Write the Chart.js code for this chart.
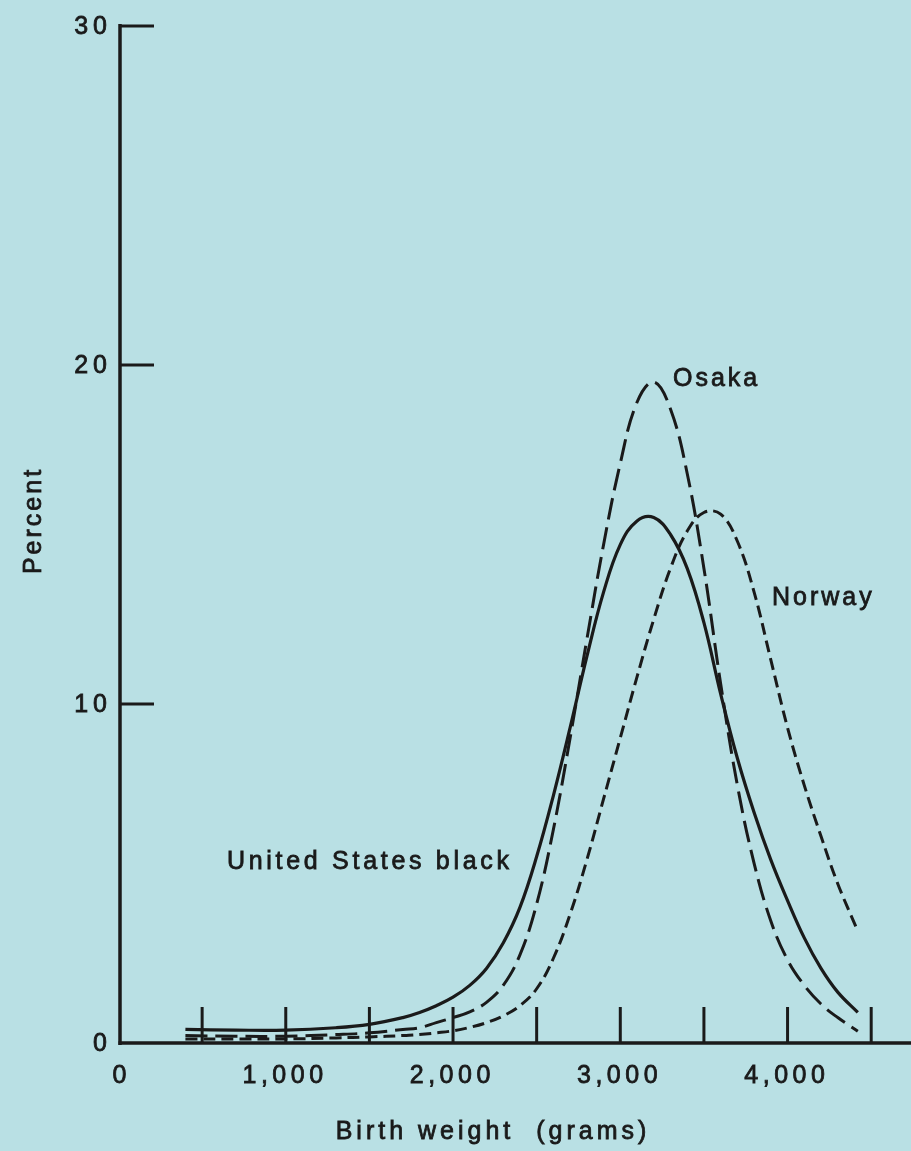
<!DOCTYPE html>
<html>
<head>
<meta charset="utf-8">
<script src="https://cdn.jsdelivr.net/npm/chart.js@4"></script>
<style>
  html, body { margin: 0; padding: 0; background: #b9e0e4; }
  #wrap { width: 911px; height: 1151px; position: relative; }
  canvas { display: block; }
</style>
</head>
<body>
<div id="wrap"><canvas id="c" width="911" height="1151"></canvas></div>
<script>
// ---- Data ----
const weights = [400, 700, 1000, 1300, 1500, 1700, 1800, 1900, 2000, 2100, 2200, 2300, 2400, 2500, 2600, 2700, 2800, 2900, 3000, 3100, 3200, 3300, 3400, 3500, 3600, 3700, 3800, 3900, 4000, 4100, 4200, 4300, 4420];
const usBlack = [0.4, 0.38, 0.38, 0.45, 0.55, 0.75, 0.9, 1.1, 1.35, 1.7, 2.2, 2.95, 4.0, 5.5, 7.3, 9.3, 11.4, 13.3, 14.7, 15.4, 15.5, 15.0, 14.0, 12.4, 10.3, 8.4, 6.8, 5.4, 4.2, 3.1, 2.2, 1.5, 0.9];
const osaka   = [0.22, 0.2, 0.2, 0.25, 0.3, 0.4, 0.45, 0.6, 0.75, 0.92, 1.2, 1.7, 2.6, 4.1, 6.3, 9.0, 11.9, 14.7, 17.1, 18.9, 19.5, 18.7, 16.8, 14.0, 10.6, 7.6, 5.3, 3.6, 2.45, 1.7, 1.15, 0.75, 0.35];
const norway  = [0.12, 0.12, 0.12, 0.15, 0.18, 0.22, 0.25, 0.3, 0.36, 0.46, 0.6, 0.8, 1.1, 1.6, 2.5, 3.8, 5.4, 7.2, 9.0, 10.8, 12.5, 14.0, 15.1, 15.65, 15.6, 14.8, 13.3, 11.3, 9.3, 7.6, 6.1, 4.7, 3.3];

const seriesNames = ["United States black", "Osaka", "Norway"];
const xTickMarks = [500, 1000, 1500, 2000, 2500, 3000, 3500, 4000, 4500];
const xTickLabels = [0, 1000, 2000, 3000, 4000];
const yTickMarks = [10, 20, 30];
const yTickLabels = [0, 10, 20, 30];
const xTitle = "Birth weight  (grams)";
const yTitle = "Percent";

const INK = '#1a1a1a';
const FONT = '25px "Liberation Sans", Arial, sans-serif';

const toPts = (ys) => weights.map((w, i) => ({ x: w, y: ys[i] }));

function spacedText(ctx, text, x, y, align, spacing) {
  ctx.save();
  ctx.letterSpacing = spacing + 'px';
  const w = ctx.measureText(text).width - spacing; // remove trailing spacing
  let sx = x;
  if (align === 'center') sx = x - w / 2;
  else if (align === 'right') sx = x - w;
  ctx.textAlign = 'left';
  ctx.lineWidth = 0.8;
  ctx.strokeStyle = ctx.fillStyle;
  ctx.fillText(text, sx, y);
  ctx.strokeText(text, sx, y);
  ctx.restore();
}

const fmt = (v) => v.toLocaleString('en-US');

const axesPlugin = {
  id: 'axesPlugin',
  beforeDatasetsDraw(chart) {
    const ctx = chart.ctx;
    const xs = chart.scales.x, ys = chart.scales.y;
    const x0 = xs.getPixelForValue(0) + 1.5;
    const y0 = ys.getPixelForValue(0);
    ctx.save();
    ctx.strokeStyle = INK;
    ctx.lineCap = 'butt';
    ctx.lineWidth = 3.5;
    ctx.beginPath();
    ctx.moveTo(x0, ys.getPixelForValue(30) - 2);
    ctx.lineTo(x0, y0 + 2);
    ctx.stroke();
    ctx.beginPath();
    ctx.moveTo(x0 - 1.5, y0);
    ctx.lineTo(chart.width, y0);
    ctx.stroke();
    ctx.lineWidth = 3;
    yTickMarks.forEach(v => {
      const py = ys.getPixelForValue(v);
      ctx.beginPath();
      ctx.moveTo(x0, py);
      ctx.lineTo(x0 + 34, py);
      ctx.stroke();
    });
    xTickMarks.forEach(v => {
      const px = xs.getPixelForValue(v);
      ctx.beginPath();
      ctx.moveTo(px, y0);
      ctx.lineTo(px, y0 - 36);
      ctx.stroke();
    });
    ctx.restore();
  },
  afterDraw(chart) {
    const ctx = chart.ctx;
    const xs = chart.scales.x, ys = chart.scales.y;
    ctx.save();
    ctx.fillStyle = INK;
    ctx.font = FONT;
    ctx.textBaseline = 'alphabetic';
    xTickLabels.forEach(v => {
      spacedText(ctx, fmt(v), xs.getPixelForValue(v) + (v === 0 ? 1 : -3), 1083, 'center', 4.5);
    });
    ctx.textBaseline = 'middle';
    yTickLabels.forEach(v => {
      spacedText(ctx, String(v), 107, ys.getPixelForValue(v) + 1, 'right', 5);
    });
    ctx.textBaseline = 'alphabetic';
    spacedText(ctx, seriesNames[1], 673, 386, 'left', 3);
    spacedText(ctx, seriesNames[2], 772, 605, 'left', 3);
    spacedText(ctx, seriesNames[0], 227, 869, 'left', 3.7);
    spacedText(ctx, xTitle, 491, 1139, 'center', 4);
    ctx.save();
    ctx.translate(41, 522);
    ctx.rotate(-Math.PI / 2);
    spacedText(ctx, yTitle, 0, 0, 'center', 3);
    ctx.restore();
    ctx.restore();
  }
};

new Chart(document.getElementById('c'), {
  type: 'line',
  data: {
    datasets: [
      { label: seriesNames[0], data: toPts(usBlack), borderColor: INK, borderWidth: 3.2, pointRadius: 0, tension: 0.4, fill: false },
      { label: seriesNames[1], data: toPts(osaka), borderColor: INK, borderWidth: 3, borderDash: [22, 8], pointRadius: 0, tension: 0.4, fill: false },
      { label: seriesNames[2], data: toPts(norway), borderColor: INK, borderWidth: 3, borderDash: [12, 6], pointRadius: 0, tension: 0.4, fill: false }
    ]
  },
  options: {
    responsive: false,
    animation: false,
    events: [],
    layout: { padding: { left: 118.5, right: 0, top: 26, bottom: 108 } },
    plugins: { legend: { display: false }, tooltip: { enabled: false }, title: { display: false } },
    scales: {
      x: { type: 'linear', min: 0, max: 4738, display: false },
      y: { type: 'linear', min: 0, max: 30, display: false }
    },
    clip: false
  },
  plugins: [axesPlugin]
});
</script>
</body>
</html>
